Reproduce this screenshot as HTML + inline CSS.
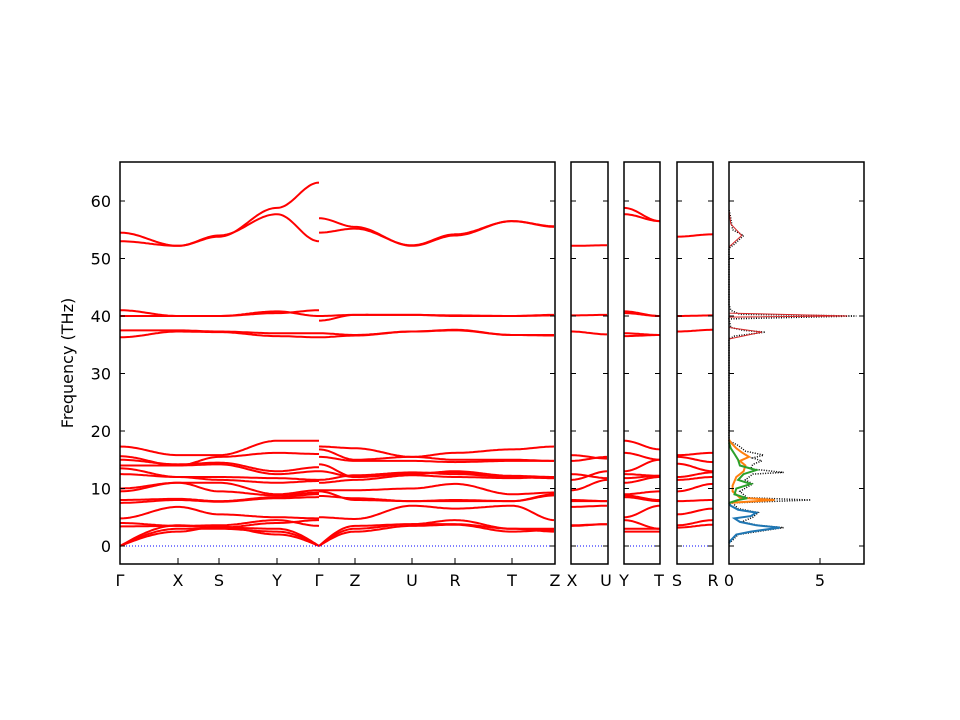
<!DOCTYPE html><html><head><meta charset="utf-8"><style>body{margin:0;background:#fff}svg{display:block}text{font-family:"DejaVu Sans","Liberation Sans",sans-serif;font-size:16px}</style></head><body>
<svg id="s" width="960" height="720" xmlns="http://www.w3.org/2000/svg"></svg>
<script>
const S=document.getElementById('s');let h='';
const Y=f=>546-5.75*f;
function band(xs,vs,col,w){let d='';for(let i=0;i<xs.length-1;i++){for(let x=xs[i];x<=xs[i+1];x+=2){let t=(x-xs[i])/(xs[i+1]-xs[i]);let m=(1-Math.cos(Math.PI*t))/2;if(vs[i]==0)m=Math.sin(Math.PI*t/2);if(vs[i+1]==0)m=1-Math.cos(Math.PI*t/2);let v=vs[i]*(1-m)+vs[i+1]*m;d+=(d?'L':'M')+x.toFixed(1)+','+Y(v).toFixed(1);}}h+=`<path d="${d}" fill="none" stroke="${col||'red'}" stroke-width="${w||2}"/>`;}
const x1=[120,178,219,277,319],x2=[319,355,412,455,512,555];
[[54.5,52.2,53.8,58.8,63.2],[53,52.2,54,57.7,53],[41,40,40,40.5,41],[40,40,40,40.8,40],[37.5,37.5,37.3,37,37],[36.3,37.3,37.2,36.5,36.3],
[17.3,15.8,15.8,18.3,18.3],[15.6,14,15.5,16.2,16],[15,14.2,14.5,13,13.7],[14,14,14.2,12.5,13],[13.5,12,12,11.8,11.5],[12.5,12,11.5,11,11.3],[10,11,11,9,9.7],[9.5,11,9.5,8.8,9.3],[8,8.2,7.8,8.5,9],[7.5,8,7.7,8.3,8.5],[4.8,6.8,5.5,5,4.8],[3.4,3.5,3.6,4.5,3.5],[4,3.5,3.2,4,4.5],[0,3.6,3.2,3,0],[0,3,3,2.5,0],[0,2.5,3.4,2,0]].forEach(v=>band(x1,v));
[[57,55.5,52.2,54,56.5,55.5],[54.5,55.2,52.3,54.2,56.5,55.6],[40,40.2,40.2,40.1,40,40.2],[39.2,40.2,40.2,40,40,40.1],[37,36.7,37.3,37.6,36.7,36.7],[36.3,36.6,37.3,37.5,36.7,36.6],
[17.3,17,15.5,16.2,16.8,17.3],[16.8,15,15.5,15,15,14.8],[15.5,14.8,14.8,14.6,14.8,14.8],[14.2,12,12.5,13,12.2,12],[13,12,12.7,12.8,12,11.8],[11.5,12.3,12.8,12.5,12,11.8],[11,11.5,12.3,12,11.8,12],[9.7,9.7,10,10.8,9,9.3],[8.7,8.3,7.8,7.8,7.8,8.8],[9.5,8,7.8,8,7.8,9],[5,4.7,7,6.5,7,4.5],[0,3.5,3.8,4.5,3,3],[0,3,3.8,3.8,3,2.5],[0,2.5,3.5,3.7,2.5,2.8]].forEach(v=>band(x2,v));
const P=[[571,608],[624,660],[677,713]];
const small=[[[52.2,52.3],[40.1,40.2],[37.3,36.8],[15.8,15.2],[14.8,15.5],[12.5,11.8],[11.5,13],[9.7,11.5],[8,7.8],[7.8,7.8],[6.8,7],[3.6,3.8],[3.5,3.8]],
[[58.8,56.5],[57.7,56.5],[40.8,40],[40.5,40],[37,36.7],[36.5,36.7],[18.3,16.8],[16.2,15],[13,15],[12.5,12.2],[11.8,12.2],[11,12],[9,9.5],[8.8,8],[8.5,7.8],[5,7],[4.5,3],[3,3],[2.5,2.5]],
[[53.8,54.2],[40,40.1],[37.3,37.6],[15.8,16.2],[15.5,14.6],[14.3,13],[12,12.8],[11.5,12],[9.5,10.8],[7.8,8],[5.5,6.5],[3.6,4.5],[3.2,3.7]]];
P.forEach((p,i)=>{small[i].forEach(v=>band([p[0],p[1]],v));h+=`<line x1="${p[0]}" y1="546" x2="${p[1]}" y2="546" stroke="blue" stroke-dasharray="1,2"/>`;});
h+=`<line x1="120" y1="546" x2="555" y2="546" stroke="blue" stroke-dasharray="1,2"/>`;
const D=u=>729+18.2*u;
function dos(pts,col,w,dash){let d=pts.map((p,i)=>(i?'L':'M')+D(p[1]).toFixed(1)+','+Y(p[0]).toFixed(1)).join('');h+=`<path d="${d}" fill="none" stroke="${col}" stroke-width="${w}" ${dash?'stroke-dasharray="1,1.5"':''}/>`;}
const blue=[[0.5,0],[1,0.1],[2,0.4],[2.5,1.2],[3.2,2.8],[3.6,1.5],[4.2,0.6],[4.8,0.3],[5.2,1.2],[5.8,1.5],[6.3,0.5],[7,0.1],[7.5,0]];
const green=[[7.5,0],[8,0.5],[8.3,1],[9,0.3],[10,0.4],[10.8,1.2],[11.5,0.5],[12.5,0.8],[13.2,1.5],[14,0.6],[15,0.5],[16,0.3],[17,0.1],[18,0]];
const orange=[[7.5,0],[8,2.5],[8.4,0.6],[9.5,0.2],[10.5,0.2],[12,0.4],[13,0.8],[14,0.9],[14.8,0.6],[15.5,1.1],[16.3,0.7],[17,0.4],[18,0.1],[18.5,0]];
const black=[[0.5,0],[1,0.2],[2,0.5],[3.2,3],[3.6,1.6],[4.2,0.7],[5,1.3],[5.8,1.6],[6.5,0.5],[7.5,0.2],[8,4.5],[8.4,1],[9.5,0.6],[10.8,1.3],[11.5,0.9],[12.5,1.3],[12.8,3],[13.4,1.2],[14.2,1.3],[14.8,1.8],[15.3,1.3],[15.8,1.9],[16.5,0.9],[17.5,0.5],[18.3,0],[36,0],[36.5,0.3],[37.2,2],[37.5,0.8],[38,0.1],[39.5,0],[40,7],[40.3,0.6],[41,0.1],[42,0],[51.8,0],[52.5,0.3],[54,0.8],[55,0.2],[57,0.1],[58.5,0]];
dos(black,'#000',1.5,true);dos(blue,'#1f77b4',2);dos(orange,'#ff7f0e',2);dos(green,'#2ca02c',2);
dos([[36,0],[37.2,1.8],[38,0],[39.8,0],[40,6.5],[40.5,0],[52,0],[54,0.7],[56,0.1],[58.3,0]],'#d62728',1);
function frame(a,b,ticks){h+=`<rect x="${a}" y="162" width="${b-a}" height="402" fill="none" stroke="#000" stroke-width="1.5"/>`;for(let f=0;f<=60;f+=10){h+=`<line x1="${a}" y1="${Y(f)}" x2="${a+5}" y2="${Y(f)}" stroke="#000"/><line x1="${b}" y1="${Y(f)}" x2="${b-5}" y2="${Y(f)}" stroke="#000"/>`;}(ticks||[]).forEach(x=>h+=`<line x1="${x}" y1="564" x2="${x}" y2="558" stroke="#000"/>`);}
frame(120,555,[178,219,277,319,355,412,455,512]);P.forEach(p=>frame(p[0],p[1]));frame(729,864,[820]);
for(let f=0;f<=60;f+=10)h+=`<text x="111" y="${Y(f)+6}" text-anchor="end">${f}</text>`;
[['Γ',120],['X',178],['S',219],['Y',277],['Γ',319],['Z',355],['U',412],['R',455],['T',512],['Z',555],['X',572],['U',606],['Y',624],['T',659],['S',677],['R',713],['0',729],['5',820]].forEach(t=>h+=`<text x="${t[1]}" y="586" text-anchor="middle">${t[0]}</text>`);
h+=`<text transform="translate(73,363) rotate(-90)" text-anchor="middle">Frequency (THz)</text>`;
S.innerHTML=h;
</script></body></html>
